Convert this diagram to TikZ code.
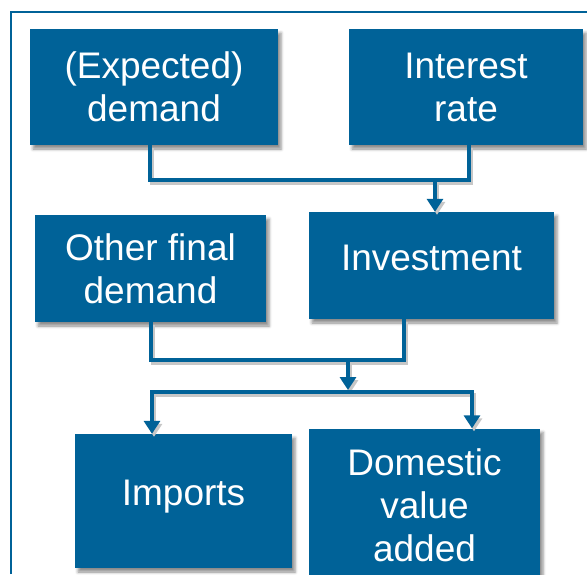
\documentclass[tikz,border=0pt]{standalone}
\usepackage{fontspec}
\setmainfont{Liberation Sans}
\usepackage{tikz}
\usetikzlibrary{arrows.meta, positioning, shadows.blur}

\definecolor{boxblue}{RGB}{0,98,152}

\tikzset{
  box/.style={fill=boxblue, text=white, align=center, inner sep=0pt,
    font=\fontsize{37}{43}\selectfont,
    blur shadow={shadow xshift=3pt, shadow yshift=-4pt, shadow blur radius=3pt, shadow opacity=45}},
  oneline/.style={text height=27pt, text depth=18pt},
  link/.style={draw=boxblue, line width=4pt,
    preaction={draw=black!22, line width=4pt, transform canvas={shift={(2pt,-3pt)}}}},
  flow/.style={link, -{Triangle[width=16pt,length=13pt]}}
}

\begin{document}
\begin{tikzpicture}[x=1pt,y=-1pt,on grid]
  \useasboundingbox (0,0) rectangle (587,574);
  \draw[boxblue, line width=2.5pt] (11,574) |- (587,12);

  \node[box, minimum width=248pt, minimum height=116pt] (demand) at (154,87) {(Expected)\\demand};
  \node[box, minimum width=234pt, minimum height=116pt] (rate) [right=312pt of demand] {Interest\\rate};
  \node[box, minimum width=231pt, minimum height=107pt] (other) [below left=181.5pt and 3.5pt of demand] {Other final\\demand};
  \node[box, oneline, minimum width=245pt, minimum height=107pt] (invest) [above right=3pt and 281pt of other] {Investment};
  \node[box, oneline, minimum width=217pt, minimum height=134pt] (imports) [below right=232.5pt and 33pt of other] {Imports};
  \node[box, minimum width=231pt, minimum height=153pt] (domestic) [below right=4pt and 241pt of imports] {Domestic\\value\\added};

  \coordinate (upper) at (435,180);
  \coordinate (lower) at (348,360);
  \coordinate (split) at (348,392);

  \draw[link] (demand.south -| 150,0) |- (upper) -| (rate.south -| 469,0);
  \draw[flow] (upper) -- (upper |- invest.north);
  \draw[link] (other.south) |- (lower) -| (invest.south -| 404,0);
  \draw[flow] (lower) -- ([yshift=2pt]split);
  \draw[flow] (split) -| (imports.north -| 152,0);
  \draw[flow] (split) -| (domestic.north -| 472,0);
\end{tikzpicture}
\end{document}
